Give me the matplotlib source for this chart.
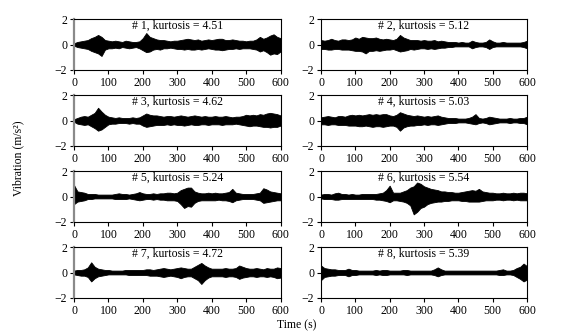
import numpy as np
import matplotlib
matplotlib.use("Agg")
import matplotlib.pyplot as plt

plt.rcParams['font.family'] = ['Liberation Serif', 'DejaVu Serif']

time_s = list(range(0, 601, 10))
kurtosis = [4.51, 5.12, 4.62, 5.03, 5.24, 5.54, 4.72, 5.39]
labels = ["# 1", "# 2", "# 3", "# 4", "# 5", "# 6", "# 7", "# 8"]

# envelope (upper / lower) of each vibration record, read every 10 s
up1 = [0.1,0.2,0.25,0.3,0.35,0.5,0.6,0.75,0.6,0.35,0.3,0.25,0.3,0.25,0.2,0.3,0.25,0.2,0.2,0.25,0.5,0.9,0.6,0.5,0.4,0.35,0.35,0.3,0.25,0.3,0.3,0.35,0.4,0.45,0.4,0.35,0.4,0.3,0.35,0.4,0.35,0.4,0.45,0.45,0.35,0.35,0.4,0.35,0.3,0.3,0.25,0.3,0.3,0.4,0.6,0.45,0.55,0.7,0.8,0.6,0.5]
lo1 = [-0.1,-0.2,-0.25,-0.3,-0.35,-0.5,-0.6,-0.7,-0.9,-0.4,-0.3,-0.3,-0.25,-0.3,-0.2,-0.25,-0.3,-0.25,-0.2,-0.3,-0.45,-0.6,-0.55,-0.4,-0.35,-0.4,-0.3,-0.3,-0.25,-0.3,-0.35,-0.35,-0.4,-0.35,-0.4,-0.4,-0.35,-0.4,-0.35,-0.3,-0.35,-0.4,-0.4,-0.45,-0.4,-0.35,-0.35,-0.3,-0.35,-0.3,-0.3,-0.3,-0.35,-0.4,-0.55,-0.45,-0.6,-0.8,-0.7,-0.75,-0.55]
up2 = [0.35,0.3,0.35,0.45,0.35,0.3,0.4,0.4,0.35,0.4,0.55,0.45,0.6,0.55,0.5,0.5,0.55,0.45,0.4,0.45,0.4,0.35,0.45,0.75,0.55,0.45,0.35,0.35,0.35,0.3,0.35,0.3,0.3,0.35,0.25,0.3,0.25,0.2,0.2,0.2,0.15,0.2,0.15,0.15,0.3,0.2,0.15,0.15,0.2,0.4,0.25,0.15,0.15,0.2,0.15,0.15,0.15,0.15,0.15,0.2,0.3]
lo2 = [-0.35,-0.35,-0.4,-0.4,-0.35,-0.35,-0.4,-0.4,-0.4,-0.45,-0.5,-0.5,-0.55,-0.7,-0.5,-0.5,-0.45,-0.5,-0.45,-0.4,-0.4,-0.35,-0.45,-0.55,-0.5,-0.45,-0.35,-0.4,-0.35,-0.3,-0.3,-0.35,-0.3,-0.35,-0.3,-0.25,-0.25,-0.2,-0.2,-0.15,-0.15,-0.15,-0.15,-0.15,-0.3,-0.2,-0.15,-0.15,-0.2,-0.35,-0.2,-0.15,-0.15,-0.15,-0.15,-0.15,-0.15,-0.15,-0.15,-0.2,-0.3]
up3 = [0.1,0.2,0.3,0.35,0.3,0.45,0.6,1.0,0.7,0.45,0.3,0.25,0.2,0.25,0.2,0.2,0.2,0.25,0.2,0.25,0.4,0.55,0.45,0.4,0.4,0.35,0.3,0.35,0.35,0.3,0.35,0.4,0.35,0.3,0.35,0.4,0.35,0.3,0.35,0.3,0.3,0.35,0.3,0.3,0.35,0.3,0.25,0.3,0.3,0.35,0.45,0.4,0.45,0.4,0.5,0.45,0.55,0.6,0.55,0.5,0.4]
lo3 = [-0.1,-0.25,-0.3,-0.35,-0.3,-0.45,-0.6,-0.8,-0.7,-0.5,-0.3,-0.25,-0.25,-0.2,-0.2,-0.2,-0.25,-0.2,-0.25,-0.25,-0.4,-0.5,-0.45,-0.4,-0.35,-0.35,-0.35,-0.3,-0.35,-0.3,-0.35,-0.35,-0.4,-0.35,-0.3,-0.35,-0.35,-0.3,-0.3,-0.35,-0.3,-0.3,-0.3,-0.35,-0.3,-0.3,-0.3,-0.25,-0.3,-0.35,-0.4,-0.45,-0.4,-0.4,-0.45,-0.5,-0.5,-0.55,-0.5,-0.5,-0.4]
up4 = [0.25,0.3,0.35,0.3,0.25,0.35,0.35,0.3,0.4,0.45,0.4,0.45,0.4,0.45,0.5,0.45,0.5,0.45,0.5,0.5,0.4,0.35,0.45,0.65,0.55,0.45,0.4,0.35,0.4,0.35,0.3,0.35,0.3,0.35,0.4,0.3,0.25,0.2,0.2,0.2,0.15,0.15,0.15,0.2,0.3,0.5,0.2,0.15,0.2,0.3,0.25,0.2,0.15,0.15,0.15,0.2,0.15,0.15,0.2,0.2,0.3]
lo4 = [-0.3,-0.3,-0.35,-0.3,-0.3,-0.35,-0.35,-0.35,-0.4,-0.4,-0.4,-0.45,-0.45,-0.4,-0.45,-0.5,-0.45,-0.45,-0.5,-0.45,-0.4,-0.4,-0.5,-0.8,-0.55,-0.45,-0.4,-0.4,-0.35,-0.35,-0.3,-0.35,-0.3,-0.3,-0.35,-0.3,-0.25,-0.2,-0.2,-0.2,-0.15,-0.15,-0.15,-0.2,-0.25,-0.3,-0.2,-0.15,-0.2,-0.3,-0.25,-0.2,-0.15,-0.15,-0.15,-0.2,-0.15,-0.15,-0.2,-0.2,-0.3]
up5 = [0.9,0.4,0.35,0.3,0.2,0.2,0.2,0.15,0.15,0.15,0.15,0.15,0.2,0.25,0.2,0.2,0.15,0.2,0.25,0.35,0.25,0.2,0.2,0.25,0.2,0.25,0.25,0.3,0.3,0.25,0.3,0.5,0.6,0.7,0.7,0.4,0.3,0.25,0.25,0.3,0.25,0.3,0.25,0.25,0.3,0.35,0.6,0.3,0.25,0.2,0.2,0.2,0.2,0.25,0.3,0.65,0.55,0.4,0.35,0.3,0.25]
lo5 = [-0.6,-0.4,-0.35,-0.3,-0.2,-0.2,-0.15,-0.15,-0.15,-0.15,-0.15,-0.15,-0.2,-0.2,-0.2,-0.2,-0.15,-0.2,-0.25,-0.3,-0.25,-0.2,-0.2,-0.25,-0.2,-0.25,-0.25,-0.3,-0.3,-0.3,-0.35,-0.6,-0.9,-0.75,-0.8,-0.5,-0.35,-0.3,-0.3,-0.3,-0.3,-0.3,-0.25,-0.3,-0.3,-0.35,-0.45,-0.3,-0.25,-0.2,-0.2,-0.2,-0.2,-0.25,-0.3,-0.5,-0.45,-0.4,-0.35,-0.3,-0.3]
up6 = [0.15,0.2,0.2,0.15,0.25,0.3,0.2,0.2,0.15,0.2,0.15,0.15,0.2,0.2,0.2,0.2,0.2,0.25,0.3,0.5,0.85,0.3,0.3,0.3,0.4,0.5,0.7,0.8,1.1,1.0,0.8,0.7,0.6,0.55,0.5,0.4,0.4,0.35,0.35,0.3,0.3,0.35,0.4,0.45,0.5,0.45,0.6,0.4,0.35,0.3,0.3,0.25,0.25,0.3,0.25,0.25,0.3,0.25,0.3,0.3,0.25]
lo6 = [-0.15,-0.2,-0.2,-0.2,-0.25,-0.25,-0.2,-0.2,-0.2,-0.2,-0.2,-0.2,-0.2,-0.2,-0.2,-0.2,-0.25,-0.25,-0.3,-0.35,-0.45,-0.3,-0.3,-0.35,-0.4,-0.5,-0.7,-1.4,-1.2,-0.9,-0.8,-0.6,-0.5,-0.45,-0.4,-0.4,-0.35,-0.35,-0.3,-0.3,-0.3,-0.35,-0.35,-0.4,-0.4,-0.4,-0.4,-0.35,-0.3,-0.3,-0.3,-0.25,-0.25,-0.3,-0.25,-0.25,-0.3,-0.25,-0.3,-0.3,-0.3]
up7 = [0.15,0.2,0.2,0.25,0.4,0.8,0.45,0.3,0.25,0.2,0.2,0.15,0.15,0.15,0.15,0.2,0.2,0.2,0.2,0.2,0.2,0.25,0.25,0.2,0.25,0.3,0.35,0.3,0.25,0.3,0.35,0.4,0.35,0.3,0.3,0.45,0.6,0.75,0.55,0.4,0.3,0.3,0.3,0.3,0.35,0.3,0.3,0.35,0.55,0.45,0.35,0.3,0.3,0.35,0.3,0.25,0.35,0.3,0.3,0.4,0.35]
lo7 = [-0.15,-0.2,-0.25,-0.25,-0.35,-0.7,-0.45,-0.3,-0.25,-0.2,-0.15,-0.15,-0.15,-0.15,-0.15,-0.15,-0.2,-0.2,-0.2,-0.2,-0.2,-0.2,-0.25,-0.25,-0.25,-0.3,-0.35,-0.3,-0.25,-0.3,-0.35,-0.45,-0.35,-0.3,-0.3,-0.45,-0.6,-0.9,-0.6,-0.4,-0.3,-0.3,-0.3,-0.3,-0.35,-0.3,-0.3,-0.35,-0.5,-0.4,-0.35,-0.3,-0.3,-0.35,-0.3,-0.3,-0.35,-0.3,-0.35,-0.45,-0.4]
up8 = [0.55,0.35,0.3,0.25,0.25,0.2,0.2,0.2,0.3,0.2,0.2,0.15,0.15,0.15,0.15,0.15,0.2,0.15,0.2,0.2,0.15,0.15,0.15,0.15,0.2,0.2,0.15,0.15,0.15,0.15,0.15,0.15,0.15,0.25,0.4,0.25,0.15,0.15,0.15,0.15,0.15,0.15,0.15,0.15,0.15,0.15,0.15,0.15,0.15,0.15,0.15,0.15,0.2,0.25,0.15,0.15,0.2,0.35,0.45,0.7,0.5]
lo8 = [-0.6,-0.35,-0.3,-0.25,-0.25,-0.2,-0.2,-0.2,-0.3,-0.2,-0.2,-0.15,-0.15,-0.15,-0.15,-0.15,-0.2,-0.15,-0.2,-0.2,-0.15,-0.15,-0.15,-0.15,-0.15,-0.2,-0.15,-0.15,-0.15,-0.15,-0.15,-0.15,-0.15,-0.2,-0.3,-0.2,-0.15,-0.15,-0.15,-0.15,-0.15,-0.15,-0.15,-0.15,-0.15,-0.15,-0.15,-0.15,-0.15,-0.15,-0.15,-0.15,-0.2,-0.2,-0.15,-0.15,-0.2,-0.35,-0.5,-0.7,-0.55]

uppers = [up1, up2, up3, up4, up5, up6, up7, up8]
lowers = [lo1, lo2, lo3, lo4, lo5, lo6, lo7, lo8]

fig = plt.figure(figsize=(5.85, 3.36), dpi=100)
W, H = 585.0, 336.0
col_left = [74, 321]
col_w = [206.5, 206]
row_top = [19, 95, 171, 247]
ax_h = 51

fs = 8.5
for i in range(8):
    r, c = divmod(i, 2)
    ax = fig.add_axes([col_left[c] / W, 1 - (row_top[r] + ax_h) / H, col_w[c] / W, ax_h / H])
    ax.fill_between(time_s, lowers[i], uppers[i], color='black', linewidth=0.6, edgecolor='black')
    ax.set_xlim(0, 600)
    ax.set_ylim(-2, 2)
    ax.set_xticks(range(0, 601, 100))
    ax.set_yticks([-2, 0, 2])
    ax.set_yticklabels(['\u22122', '0', '2'])
    ax.tick_params(direction='out', length=3, width=0.8, labelsize=fs, pad=2)
    for s in ax.spines.values():
        s.set_linewidth(0.8)
    if c == 0:
        ax.spines['left'].set_color('#8a8a8a')
        ax.spines['left'].set_linewidth(1.6)
    ax.text(300, 1.47, f"{labels[i]}, kurtosis = {kurtosis[i]:.2f}", ha='center', va='center', fontsize=fs)

fig.text(18 / W, 1 - 158 / H, "Vibration (m/s\u00b2)", rotation=90, ha='center', va='center', fontsize=fs)
fig.text(297 / W, 1 - 325 / H, "Time (s)", ha='center', va='center', fontsize=fs)

fig.savefig("out.png", dpi=100)
